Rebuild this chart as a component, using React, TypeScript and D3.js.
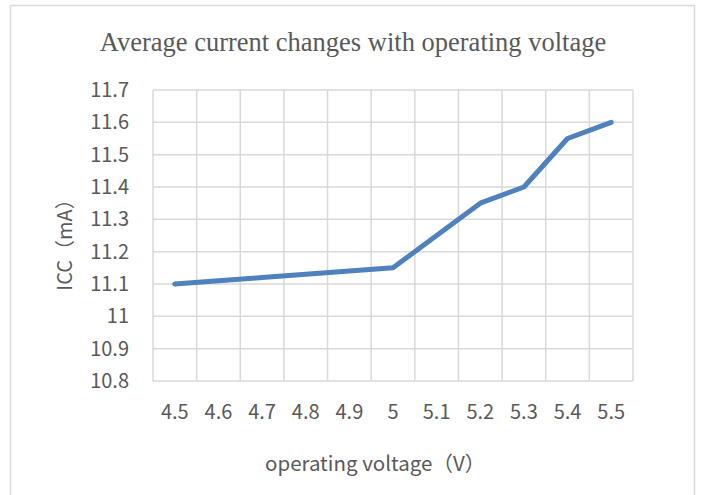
import React from "react";
import * as d3 from "d3";

const voltages = ["4.5", "4.6", "4.7", "4.8", "4.9", "5", "5.1", "5.2", "5.3", "5.4", "5.5"];
const currents = [11.1, 11.11, 11.12, 11.13, 11.14, 11.15, 11.25, 11.35, 11.4, 11.55, 11.6];
const yTicks = [10.8, 10.9, 11, 11.1, 11.2, 11.3, 11.4, 11.5, 11.6, 11.7];

const App = () => {
  const width = 701,
    height = 495;
  const left = 153,
    right = 633,
    top = 90,
    bottom = 381;

  const x = d3.scaleBand().domain(voltages).range([left, right]);
  const y = d3.scaleLinear().domain([10.8, 11.7]).range([bottom, top]);

  const line = d3
    .line<number>()
    .x((d, i) => x(voltages[i])! + x.bandwidth() / 2)
    .y(d => y(d));

  const font = "'Noto Sans CJK SC', 'Noto Sans', sans-serif";
  const vlines = voltages.map(v => x(v)!).concat([right]);

  return (
    <svg width={width} height={height} style={{ position: "absolute", left: 0, top: 0 }}>
      <rect x={0} y={0} width={width} height={height} fill="#fff" />
      <rect x={10.5} y={5.5} width={684} height={500} fill="none" stroke="#d9d9d9" strokeWidth={1.5} />
      <text x={353} y={51} textAnchor="middle" fontFamily="'Liberation Serif', 'Times New Roman', serif" fontSize={26.5} fill="#595959">
        Average current changes with operating voltage
      </text>
      {yTicks.map(t => (
        <line key={"h" + t} x1={left} x2={right} y1={y(t)} y2={y(t)} stroke="#d9d9d9" strokeWidth={1.5} />
      ))}
      {vlines.map((vx, i) => (
        <line key={"v" + i} x1={vx} x2={vx} y1={top} y2={bottom} stroke="#d9d9d9" strokeWidth={1.5} />
      ))}
      {yTicks.map(t => (
        <text key={"yt" + t} x={129} y={y(t)} dy="0.35em" textAnchor="end" fontFamily={font} fontSize={20} fill="#595959">
          {d3.format("~g")(t)}
        </text>
      ))}
      {voltages.map(v => (
        <text key={"xt" + v} x={x(v)! + x.bandwidth() / 2} y={412} dy="0.35em" textAnchor="middle" fontFamily={font} fontSize={20} fill="#595959">
          {v}
        </text>
      ))}
      <text x={265} y={464} dy="0.35em" fontFamily={font} fontSize={20.5} fill="#595959">
        operating voltage（V）
      </text>
      <text transform={`translate(65,240) rotate(-90)`} dy="0.35em" textAnchor="middle" fontFamily={font} fontSize={20} fill="#595959">
        ICC（mA）
      </text>
      <path d={line(currents)!} fill="none" stroke="#4f81bd" strokeWidth={5} strokeLinecap="round" strokeLinejoin="round" />
    </svg>
  );
};

export default App;
